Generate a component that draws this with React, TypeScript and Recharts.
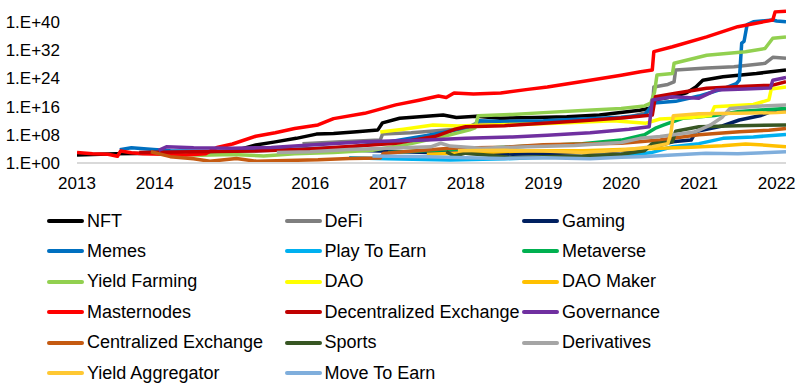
import { LineChart, Line, XAxis, YAxis } from 'recharts'

// [year, log10(value)] points
const nft = [
  [2013.0, 2.3], [2013.5, 2.6], [2014.0, 2.8], [2014.5, 3.0], [2015.0, 3.3], [2015.3, 5.1],
  [2015.55, 6.0], [2015.82, 7.0], [2016.08, 8.2], [2016.3, 8.4], [2016.6, 8.9], [2016.87, 9.4],
  [2016.93, 11.4], [2017.15, 12.7], [2017.45, 13.2], [2017.71, 13.6], [2017.88, 12.9],
  [2018.14, 13.3], [2018.44, 12.7], [2018.9, 12.9], [2019.3, 13.1], [2019.72, 13.6],
  [2020.24, 15.0], [2020.38, 15.6], [2020.41, 17.9], [2020.66, 18.8], [2020.84, 19.9],
  [2020.96, 21.6], [2021.05, 23.5], [2021.31, 24.5], [2021.74, 25.4], [2022.12, 26.4],
]
const defi = [
  [2015.9, 5.5], [2016.4, 6.0], [2016.9, 6.5], [2016.93, 8.2], [2017.3, 8.6], [2017.75, 9.4],
  [2018.0, 9.8], [2018.14, 11.3], [2018.6, 11.3], [2019.1, 11.7], [2019.6, 12.2], [2020.1, 13.0],
  [2020.35, 14.5], [2020.4, 15.0], [2020.42, 21.6], [2020.6, 22.3], [2020.68, 23.0],
  [2020.7, 26.4], [2021.1, 27.0], [2021.45, 27.3], [2021.85, 28.3], [2021.95, 30.0], [2022.12, 29.7],
]
const gaming = [
  [2016.0, 4.0], [2016.8, 3.5], [2017.5, 3.0], [2018.0, 2.8], [2018.6, 2.5], [2019.2, 2.8],
  [2019.8, 3.2], [2020.3, 4.0], [2020.5, 5.0], [2020.66, 6.0], [2020.9, 6.5], [2020.96, 8.9],
  [2021.3, 10.5], [2021.52, 12.2], [2021.8, 13.5], [2021.95, 14.8], [2022.12, 15.0],
]
const memes = [
  [2013.55, 3.8], [2013.7, 4.3], [2013.9, 4.0], [2014.2, 3.5], [2014.8, 3.3], [2015.5, 3.6],
  [2016.5, 4.5], [2017.0, 6.0], [2017.5, 7.8], [2018.1, 10.3], [2018.17, 12.0], [2018.5, 11.8],
  [2019.0, 12.0], [2019.5, 12.5], [2020.0, 13.0], [2020.3, 13.6], [2020.42, 17.0], [2020.7, 17.5],
  [2021.0, 19.0], [2021.3, 21.0], [2021.48, 22.5], [2021.52, 23.5], [2021.55, 34.0],
  [2021.58, 34.5], [2021.62, 39.3], [2021.7, 40.1], [2021.95, 40.6], [2022.0, 40.3], [2022.12, 40.1],
]
const playToEarn = [
  [2016.5, 1.5], [2017.0, 1.2], [2017.8, 0.85], [2018.5, 1.2], [2019.0, 1.6], [2019.6, 1.8],
  [2020.0, 2.0], [2020.4, 3.0], [2020.66, 4.6], [2021.0, 5.5], [2021.31, 7.0], [2021.7, 7.4],
  [2022.12, 8.1],
]
const metaverse = [
  [2017.0, 3.0], [2017.8, 3.8], [2018.5, 4.5], [2019.0, 5.0], [2019.5, 5.5], [2020.0, 6.5],
  [2020.3, 8.0], [2020.45, 10.0], [2020.55, 10.8], [2020.79, 12.7], [2021.2, 13.5],
  [2021.52, 14.6], [2021.9, 15.2], [2022.12, 15.5],
]
const yieldFarming = [
  [2014.2, 2.6], [2014.6, 2.2], [2015.0, 2.4], [2015.4, 2.0], [2015.8, 2.6], [2016.3, 3.0],
  [2016.8, 3.6], [2017.3, 5.5], [2017.8, 8.0], [2018.05, 9.4], [2018.12, 10.0], [2018.16, 13.4],
  [2018.6, 13.8], [2019.0, 14.3], [2019.5, 14.9], [2020.0, 15.5], [2020.3, 16.2], [2020.38, 17.0],
  [2020.43, 20.2], [2020.46, 25.0], [2020.66, 25.4], [2020.68, 28.3], [2021.1, 30.6],
  [2021.6, 31.6], [2021.85, 32.5], [2021.95, 35.4], [2022.12, 35.8],
]
const dao = [
  [2016.9, 8.8], [2017.2, 9.6], [2017.58, 10.8], [2017.9, 10.5], [2018.3, 10.8], [2018.8, 11.0],
  [2019.4, 11.5], [2019.9, 12.0], [2020.32, 11.3], [2020.5, 12.5], [2020.9, 12.9], [2021.15, 13.5],
  [2021.2, 16.0], [2021.7, 16.6], [2021.9, 17.9], [2021.93, 21.0], [2022.12, 21.6],
]
const daoMaker = [
  [2017.5, 2.5], [2018.2, 3.0], [2018.8, 3.5], [2019.5, 3.5], [2020.0, 3.8], [2020.5, 4.2],
  [2020.9, 4.5], [2021.3, 4.9], [2021.6, 5.4], [2021.9, 5.0], [2022.12, 4.6],
]
const masternodes = [
  [2013.0, 3.0], [2013.2, 2.6], [2013.4, 2.5], [2013.52, 1.9], [2013.56, 3.4], [2013.7, 2.9],
  [2013.85, 2.6], [2014.1, 2.5], [2014.4, 2.3], [2014.65, 2.6], [2014.8, 4.4], [2015.0, 5.4],
  [2015.3, 7.6], [2015.55, 8.6], [2015.8, 9.8], [2016.1, 10.8], [2016.3, 12.6], [2016.7, 14.1],
  [2017.1, 16.5], [2017.4, 17.8], [2017.65, 19.0], [2017.75, 18.6], [2017.85, 19.9],
  [2018.1, 19.6], [2018.45, 19.9], [2018.8, 20.9], [2019.05, 21.6], [2019.6, 23.5],
  [2020.0, 24.9], [2020.25, 25.9], [2020.4, 26.4], [2020.42, 31.6], [2020.66, 33.0],
  [2021.1, 35.8], [2021.5, 38.7], [2021.95, 40.6], [2021.98, 42.9], [2022.12, 43.1],
]
const dex = [
  [2013.8, 3.0], [2014.5, 3.2], [2015.3, 3.4], [2016.0, 4.0], [2016.6, 4.8], [2017.1, 5.6],
  [2017.6, 7.5], [2017.85, 9.5], [2018.0, 10.3], [2018.5, 10.6], [2019.0, 11.3], [2019.5, 12.0],
  [2020.0, 12.8], [2020.3, 13.4], [2020.4, 13.6], [2020.44, 18.8], [2020.7, 19.8],
  [2021.1, 21.2], [2021.6, 21.8], [2021.95, 22.1], [2022.12, 23.1],
]
const governance = [
  [2014.05, 3.6], [2014.15, 4.6], [2014.5, 4.3], [2015.0, 4.2], [2015.5, 4.4], [2015.9, 5.0],
  [2016.7, 6.0], [2017.5, 6.5], [2018.0, 7.0], [2018.6, 7.4], [2019.05, 7.9], [2019.6, 8.6],
  [2020.1, 9.6], [2020.36, 10.3], [2020.4, 17.9], [2020.66, 18.8], [2021.0, 18.4],
  [2021.22, 20.7], [2021.6, 21.0], [2021.92, 21.3], [2021.95, 23.5], [2022.12, 24.3],
]
const cex = [
  [2013.95, 3.2], [2014.2, 1.8], [2014.5, 1.2], [2014.71, 0.5], [2015.05, 1.3], [2015.31, 0.5],
  [2015.7, 0.7], [2016.1, 0.9], [2016.5, 1.3], [2016.9, 1.4], [2016.94, 2.7], [2017.2, 3.2],
  [2017.8, 4.2], [2018.5, 4.5], [2019.0, 5.2], [2019.5, 5.4], [2020.0, 5.6], [2020.5, 6.5],
  [2020.66, 7.0], [2021.0, 8.0], [2021.52, 8.9], [2021.9, 9.3], [2022.12, 9.8],
]
const sports = [
  [2017.75, 3.2], [2017.85, 2.0], [2018.0, 2.8], [2018.3, 2.2], [2018.6, 1.5], [2019.0, 1.8],
  [2019.5, 2.0], [2020.0, 2.5], [2020.3, 3.5], [2020.4, 5.5], [2020.66, 6.0], [2020.7, 9.0],
  [2021.0, 10.3], [2021.5, 10.6], [2022.12, 10.8],
]
const derivatives = [
  [2015.57, 3.0], [2016.0, 3.2], [2016.5, 3.8], [2017.0, 4.2], [2017.55, 4.6], [2017.68, 5.6],
  [2017.8, 4.8], [2018.2, 4.2], [2018.8, 4.6], [2019.4, 5.0], [2020.0, 5.8], [2020.24, 7.0],
  [2020.5, 7.5], [2020.96, 8.9], [2021.15, 10.8], [2021.3, 13.0], [2021.4, 15.5],
  [2021.8, 16.2], [2022.12, 16.5],
]
const yieldAggregator = [
  [2017.9, 3.5], [2018.5, 3.6], [2019.0, 3.4], [2019.5, 3.0], [2020.0, 3.6], [2020.4, 4.6],
  [2020.6, 5.5], [2020.64, 8.5], [2020.67, 13.4], [2021.0, 14.0], [2021.5, 14.1],
  [2022.0, 14.3], [2022.12, 14.5],
]
const moveToEarn = [
  [2016.8, 2.0], [2017.5, 1.8], [2018.0, 1.5], [2018.5, 1.3], [2019.0, 1.5], [2019.6, 1.2],
  [2020.0, 1.6], [2020.24, 1.8], [2020.6, 2.2], [2021.09, 2.75], [2021.5, 2.6], [2021.9, 3.0],
  [2022.12, 3.2],
]

const series = [
  { name: 'NFT', color: '#000000', pts: nft },
  { name: 'DeFi', color: '#7F7F7F', pts: defi },
  { name: 'Gaming', color: '#002060', pts: gaming },
  { name: 'Memes', color: '#0070C0', pts: memes },
  { name: 'Play To Earn', color: '#00B0F0', pts: playToEarn },
  { name: 'Metaverse', color: '#00B050', pts: metaverse },
  { name: 'Yield Farming', color: '#92D050', pts: yieldFarming },
  { name: 'DAO', color: '#FFFF00', pts: dao },
  { name: 'DAO Maker', color: '#FFC000', pts: daoMaker },
  { name: 'Masternodes', color: '#FF0000', pts: masternodes },
  { name: 'Decentralized Exchange', color: '#C00000', pts: dex },
  { name: 'Governance', color: '#7030A0', pts: governance },
  { name: 'Centralized Exchange', color: '#C55A11', pts: cex },
  { name: 'Sports', color: '#375623', pts: sports },
  { name: 'Derivatives', color: '#A5A5A5', pts: derivatives },
  { name: 'Yield Aggregator', color: '#FFC832', pts: yieldAggregator },
  { name: 'Move To Earn', color: '#7FAEDC', pts: moveToEarn },
]

const yearTicks = [2013, 2014, 2015, 2016, 2017, 2018, 2019, 2020, 2021, 2022]
const expTicks = [0, 8, 16, 24, 32, 40]

const font = '"Liberation Sans", Arial, sans-serif'

const fmtExp = (v: number) => `1.E+${String(Math.round(Math.log10(v))).padStart(2, '0')}`

export default function App() {
  return (
    <div style={{ position: 'absolute', left: 0, top: 0, width: 800, height: 385, background: '#fff', fontFamily: font }}>
      <LineChart width={800} height={385} margin={{ top: 8, right: 14, left: 0, bottom: 192 }}>
        <XAxis
          type="number"
          dataKey="x"
          domain={[2013, 2022.12]}
          ticks={yearTicks}
          allowDataOverflow
          tickLine={false}
          axisLine={{ stroke: '#D9D9D9', strokeWidth: 2 }}
          tick={{ fill: '#000', fontSize: 17, fontFamily: font }}
          tickMargin={8}
          height={30}
        />
        <YAxis
          scale="log"
          domain={[1, 1e44]}
          ticks={expTicks.map(e => 10 ** e)}
          allowDataOverflow
          axisLine={false}
          tickLine={false}
          tickFormatter={fmtExp}
          tick={{ fill: '#000', fontSize: 17, fontFamily: font }}
          tickMargin={11}
          width={77}
        />
        {series.map(s => (
          <Line
            key={s.name}
            data={s.pts.map(([x, e]) => ({ x, v: 10 ** e }))}
            dataKey="v"
            name={s.name}
            type="linear"
            stroke={s.color}
            strokeWidth={3.5}
            strokeLinejoin="round"
            dot={false}
            activeDot={false}
            isAnimationActive={false}
          />
        ))}
      </LineChart>
      {series.map((s, i) => {
        const col = i % 3
        const row = Math.floor(i / 3)
        return (
          <div
            key={s.name}
            style={{
              position: 'absolute',
              left: 47 + col * 237.5,
              top: 221 + row * 30.4 - 12,
              height: 24,
              display: 'flex',
              alignItems: 'center',
              fontSize: 18,
              color: '#000',
              whiteSpace: 'nowrap',
            }}
          >
            <span style={{ display: 'inline-block', width: 37, height: 4, borderRadius: 2, background: s.color, marginRight: 3 }} />
            {s.name}
          </div>
        )
      })}
    </div>
  )
}
